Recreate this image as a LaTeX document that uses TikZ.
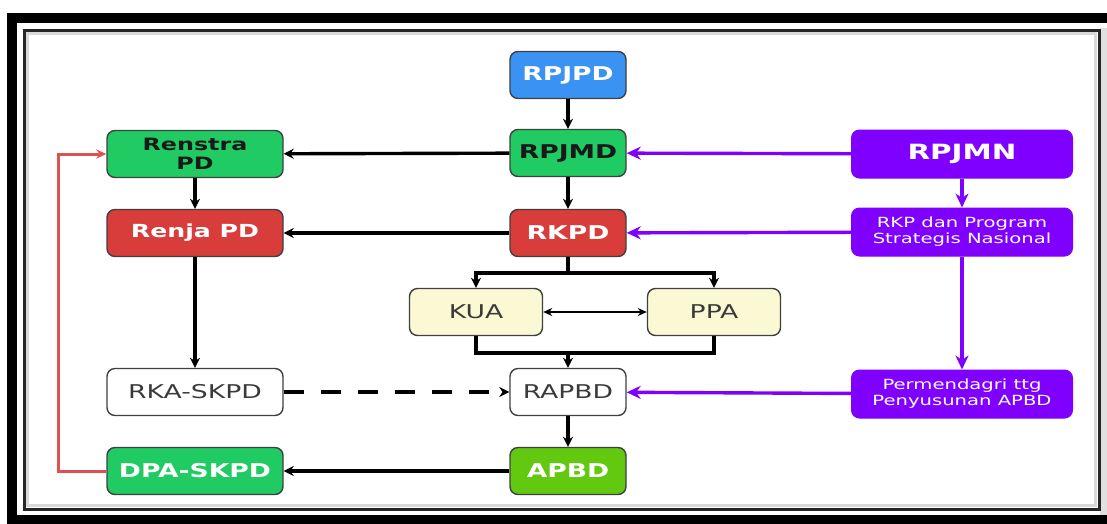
\documentclass[tikz,border=0pt]{standalone}
\usepackage{fontspec}
\usetikzlibrary{arrows.meta}
\newfontfamily\dvs[FakeStretch=1.4]{DejaVu Sans}
\definecolor{cblue}{HTML}{3A93F2}
\definecolor{cgreen}{HTML}{1FCB62}
\definecolor{cred}{HTML}{D83D3B}
\definecolor{clime}{HTML}{62C910}
\definecolor{cyel}{HTML}{FBF9D3}
\definecolor{cpurp}{HTML}{7F00FF}
\definecolor{cline}{HTML}{E05050}
\definecolor{ctext}{HTML}{3A3A3A}
\tikzset{
  box/.style={rounded corners=8pt, draw=black!75, line width=1.4pt,
    minimum width=116pt, minimum height=47pt, align=center, inner sep=2pt,
    font=\dvs\bfseries\fontsize{19}{20}\selectfont},
  wide/.style={box, minimum width=176pt},
  pbox/.style={rounded corners=8pt, draw=cpurp, fill=cpurp, line width=1pt,
    minimum width=221pt, minimum height=48pt, align=center, inner sep=2pt,
    text=white, font=\dvs\fontsize{14}{16}\selectfont},
  blk/.style={line width=3.4pt, draw=black},
  arr/.style={blk, -{Stealth[length=10pt,width=10pt]}},
  parr/.style={line width=3.4pt, draw=cpurp, -{Stealth[length=14pt,width=13pt]}},
}
\begin{document}
\begin{tikzpicture}[x=1pt,y=-1pt]
\useasboundingbox (0,0) rectangle (1107,523);
\fill[white] (0,0) rectangle (1107,523);
% double frame
\fill[black!12] (1100,28) rectangle (1107,523);
\draw[line width=10pt, black] (12,18) rectangle (1130,520);
\draw[line width=3pt, black!85] (24,30) rectangle (1099,509);
\draw[line width=3pt, black!15] (27.5,33.5) rectangle (1095.5,505.5);

% centre column
\node[box, fill=cblue, text=white] (rpjpd) at (568,75) {RPJPD};
\node[box, fill=cgreen, text=black!90] (rpjmd) at (568,153) {RPJMD};
\node[box, fill=cred, text=white] (rkpd) at (568,233) {RKPD};
\node[box, fill=cyel, text=ctext, minimum width=133pt,
  font=\dvs\fontsize{19}{20}\selectfont] (kua) at (476,312) {KUA};
\node[box, fill=cyel, text=ctext, minimum width=133pt,
  font=\dvs\fontsize{19}{20}\selectfont] (ppa) at (714,312) {PPA};
\node[box, fill=white, text=ctext, font=\dvs\fontsize{19}{20}\selectfont] (rapbd) at (568,392) {RAPBD};
\node[box, fill=clime, text=white] (apbd) at (568,471) {APBD};

% left column
\node[wide, fill=cgreen, text=black!90, font=\dvs\bfseries\fontsize{17}{19}\selectfont] (renstra) at (195,154) {Renstra\\PD};
\node[wide, fill=cred, text=white, font=\dvs\bfseries\fontsize{18}{20}\selectfont] (renja) at (195,233) {Renja PD};
\node[wide, fill=white, text=ctext, font=\dvs\fontsize{19}{20}\selectfont] (rka) at (195,392) {RKA-SKPD};
\node[wide, fill=cgreen, text=white] (dpa) at (195,471) {DPA-SKPD};

% right column
\node[pbox, font=\dvs\bfseries\fontsize{21}{22}\selectfont] (rpjmn) at (962,154) {RPJMN};
\node[pbox] (rkp) at (962,232) {RKP dan Program\\Strategis Nasional};
\node[pbox] (perm) at (962,394) {Permendagri ttg\\Penyusunan APBD};

% black connectors
\draw[arr] (rpjpd) -- (rpjmd);
\draw[arr] (rpjmd) -- (rkpd);
\draw[arr] (rpjmd) -- (renstra);
\draw[arr] (rkpd) -- (renja);
\draw[arr] (renstra) -- (renja);
\draw[arr] (renja) -- (rka);
\coordinate (sp) at (568,273);
\draw[blk] (rkpd) -- (sp);
\draw[arr] (sp) -| (kua);
\draw[arr] (sp) -| (ppa);
\draw[line width=2.8pt, {Stealth[length=9pt,width=8pt]}-{Stealth[length=9pt,width=8pt]}] (kua) -- (ppa);
\coordinate (jn) at (568,353);
\draw[blk] (kua.south) |- (jn) -| (ppa.south);
\draw[arr] (jn) -- (rapbd);
\draw[arr, dash pattern=on 20pt off 17pt] (rka) -- (rapbd);
\draw[arr] (rapbd) -- (apbd);
\draw[arr] (apbd) -- (dpa);

% feedback loop
\coordinate (rl) at (58,154);
\draw[line width=3pt, cline, -{Stealth[length=10pt,width=9pt]}] (dpa.west) -| (rl) -- (renstra.west);

% national references
\draw[parr] (rpjmn) -- (rpjmd);
\draw[parr] (rpjmn) -- (rkp);
\draw[parr] (rkp) -- (rkpd);
\draw[parr] (rkp) -- (perm);
\draw[parr] (perm) -- (rapbd);
\end{tikzpicture}
\end{document}
